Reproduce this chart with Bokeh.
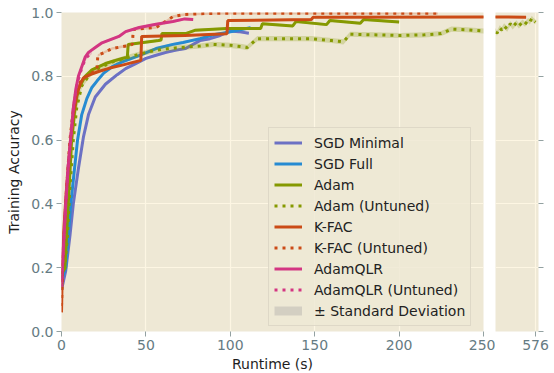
import numpy as np
from bokeh.plotting import figure
from bokeh.layouts import row
from bokeh.models import (Legend, LegendItem, FixedTicker, NumeralTickFormatter,
                          CustomJSTickFormatter, Range1d)
from bokeh.embed import file_html
from bokeh.resources import INLINE

FONT = "DejaVu Sans"
BG = "#EEE8D5"
GRID = "#FDF6E3"
TICK_TXT = "#657b83"
TICK_LINE = "#93a1a1"

# ---------------- data (runtime s, training accuracy) ----------------
sgd_min_x = [0, 2.5, 5, 7, 10, 13, 16, 20, 26, 33, 38, 44, 50, 56, 62, 68, 73.5, 82, 88, 94, 100, 105, 111]
sgd_min_y = [0.13, 0.19, 0.30, 0.40, 0.51, 0.61, 0.68, 0.735, 0.775, 0.805, 0.824, 0.84, 0.856, 0.866, 0.875, 0.882, 0.887, 0.912, 0.918, 0.928, 0.942, 0.94, 0.935]

sgd_full_x = [0, 2.5, 4, 5.5, 7.5, 9.5, 12, 15, 18, 21, 25, 30, 36, 46, 56, 66, 72, 82, 90, 98, 105, 112]
sgd_full_y = [0.16, 0.20, 0.30, 0.40, 0.50, 0.60, 0.68, 0.73, 0.765, 0.785, 0.81, 0.83, 0.845, 0.865, 0.887, 0.9, 0.906, 0.918, 0.93, 0.937, 0.945, 0.952]

adam_x = [0, 2, 3, 4.5, 6, 8, 10, 14, 18, 26, 36, 39, 39.5, 57.5, 59, 59.5, 73.5, 79, 98, 118, 119, 137, 139, 157, 159, 177, 179, 200]
adam_y = [0.18, 0.20, 0.30, 0.45, 0.60, 0.70, 0.76, 0.80, 0.82, 0.84, 0.856, 0.86, 0.90, 0.912, 0.914, 0.934, 0.934, 0.944, 0.95, 0.95, 0.965, 0.958, 0.972, 0.962, 0.975, 0.966, 0.978, 0.97]

adam_unt_x = [0, 2, 3.5, 5, 7, 9, 12, 16, 20, 30, 40, 50, 60, 70, 82, 90, 100, 107, 110, 116, 130, 148, 160, 167, 171, 185, 201, 215, 225, 231, 240, 250,
              262, 285, 300, 320, 345, 370, 390, 420, 440, 470, 490, 515, 530, 545, 560, 576]
adam_unt_y = [0.17, 0.20, 0.30, 0.45, 0.60, 0.70, 0.77, 0.80, 0.82, 0.845, 0.86, 0.875, 0.885, 0.89, 0.895, 0.90, 0.897, 0.893, 0.89, 0.918, 0.918, 0.918, 0.912, 0.908, 0.932, 0.93, 0.928, 0.93, 0.934, 0.948, 0.946, 0.942,
              0.935, 0.952, 0.945, 0.958, 0.948, 0.965, 0.955, 0.968, 0.958, 0.97, 0.963, 0.975, 0.97, 0.982, 0.975, 0.97]

kfac_x = [0, 0.5, 1.5, 3, 5, 7, 9, 11, 13, 17, 22, 28, 36, 47, 47.5, 73, 98, 98.5, 148, 149, 250, 499]
kfac_y = [0.06, 0.20, 0.33, 0.45, 0.58, 0.68, 0.74, 0.775, 0.795, 0.805, 0.815, 0.825, 0.835, 0.85, 0.925, 0.928, 0.933, 0.975, 0.978, 0.985, 0.986, 0.985]

kfac_unt_x = [0, 1, 3, 5, 7, 9, 12, 18, 21, 21.5, 30, 40, 42, 42.5, 56, 63.5, 66, 73, 87, 100, 223]
kfac_unt_y = [0.08, 0.25, 0.45, 0.60, 0.70, 0.76, 0.79, 0.81, 0.82, 0.865, 0.887, 0.897, 0.90, 0.947, 0.953, 0.978, 0.987, 0.994, 0.997, 0.998, 0.998]

qlr_x = [0, 1, 2.5, 4, 5.3, 7, 8.5, 10, 12, 14, 16, 20, 24, 29, 34, 38, 46, 56, 66, 73, 78]
qlr_y = [0.15, 0.25, 0.40, 0.52, 0.60, 0.70, 0.76, 0.80, 0.83, 0.86, 0.875, 0.89, 0.905, 0.915, 0.925, 0.94, 0.953, 0.963, 0.972, 0.98, 0.978]

qlr_unt_x = [0, 1, 2.5, 4, 5.5, 7, 9, 11, 13, 15, 18]
qlr_unt_y = [0.14, 0.24, 0.40, 0.52, 0.60, 0.70, 0.77, 0.81, 0.84, 0.86, 0.875]

# standard deviation (half-width of shaded band) per series
std_sgd_min, std_sgd_full, std_adam, std_adam_unt = 0.004, 0.004, 0.004, 0.008
std_kfac, std_kfac_unt, std_qlr, std_qlr_unt = 0.003, 0.004, 0.004, 0.005

labels = ["SGD Minimal", "SGD Full", "Adam", "Adam (Untuned)", "K-FAC",
          "K-FAC (Untuned)", "AdamQLR", "AdamQLR (Untuned)"]
colors = ["#6C71C4", "#268BD2", "#859900", "#859900", "#CB4B16",
          "#CB4B16", "#D33682", "#D33682"]
dashes = ["solid", "solid", "solid", "3 5", "solid", "3 5", "solid", "3 5"]
xs = [sgd_min_x, sgd_full_x, adam_x, adam_unt_x, kfac_x, kfac_unt_x, qlr_x, qlr_unt_x]
ys = [sgd_min_y, sgd_full_y, adam_y, adam_unt_y, kfac_y, kfac_unt_y, qlr_y, qlr_unt_y]
stds = [std_sgd_min, std_sgd_full, std_adam, std_adam_unt, std_kfac, std_kfac_unt, std_qlr, std_qlr_unt]

y_ticks = [0.0, 0.2, 0.4, 0.6, 0.8, 1.0]
x_ticks_main = [0, 50, 100, 150, 200, 250]
x_ticks_tail = [576]


def style(p):
    p.background_fill_color = BG
    p.border_fill_color = "white"
    p.outline_line_color = None
    p.grid.grid_line_color = GRID
    p.grid.grid_line_width = 1.2
    for ax in p.axis:
        ax.axis_line_color = None
        ax.major_tick_line_color = TICK_LINE
        ax.major_tick_out = 5
        ax.major_tick_in = 0
        ax.minor_tick_line_color = None
        ax.major_label_text_color = TICK_TXT
        ax.major_label_text_font = FONT
        ax.major_label_text_font_size = "14px"
        ax.major_label_standoff = 3
        ax.axis_label_text_font = FONT
        ax.axis_label_text_font_size = "14px"
        ax.axis_label_text_font_style = "normal"
        ax.axis_label_text_color = "#1e1e1e"


p = figure(frame_width=422, frame_height=319, x_range=Range1d(0, 250), y_range=Range1d(0, 1),
           output_backend="svg", toolbar_location=None, title=None,
           min_border_left=61, min_border_right=12, min_border_top=12, min_border_bottom=42)
p2 = figure(frame_width=43, frame_height=319, x_range=Range1d(250, 600), y_range=Range1d(0, 1),
            output_backend="svg", toolbar_location=None, title=None, y_axis_location="right",
            min_border_left=0, min_border_right=14, min_border_top=12, min_border_bottom=42)
style(p)
style(p2)

p.xaxis.ticker = FixedTicker(ticks=x_ticks_main)
p.yaxis.ticker = FixedTicker(ticks=y_ticks)
p.yaxis.formatter = NumeralTickFormatter(format="0.0")
p.xaxis.axis_label = "Runtime (s)"
p.yaxis.axis_label = "Training Accuracy"
p.xaxis.axis_label_standoff = 3
p.yaxis.axis_label_standoff = 6

p2.xaxis.ticker = FixedTicker(ticks=x_ticks_tail)
p2.yaxis.ticker = FixedTicker(ticks=y_ticks)
p2.yaxis.formatter = CustomJSTickFormatter(code="return ''")
p2.yaxis.major_label_standoff = 0

renderers = []
for lab, x, y, s, c, d in zip(labels, xs, ys, stds, colors, dashes):
    xa = np.array(x, dtype=float)
    ya = np.array(y, dtype=float)
    for fig in (p, p2):
        fig.varea(x=xa, y1=ya - s, y2=ya + s, fill_color=c, fill_alpha=0.25)
    r = None
    for fig in (p, p2):
        rr = fig.line(x=xa, y=ya, line_color=c, line_width=3, line_dash=d)
        if fig is p:
            r = rr
    renderers.append(r)

# legend proxy for the shaded band (not drawn in the frame)
std_r = p.line(x=adam_x, y=adam_y, line_color="#a0a0a0", line_alpha=0.35, line_width=9, visible=False)

items = [LegendItem(label=lab, renderers=[r]) for lab, r in zip(labels, renderers)]
items.append(LegendItem(label="\u00b1 Standard Deviation", renderers=[std_r]))
legend = Legend(items=items, location=(207, 5), orientation="vertical",
                glyph_width=28, glyph_height=19, label_height=19, spacing=2,
                padding=5, margin=0, label_standoff=12,
                label_text_font=FONT, label_text_font_size="14px", label_text_color="#222222",
                background_fill_color=BG, background_fill_alpha=0.8,
                border_line_color="#cdc8ba", border_line_width=1)
p.add_layout(legend)

layout = row(p, p2)
open("out.html", "w").write(file_html(layout, INLINE))
